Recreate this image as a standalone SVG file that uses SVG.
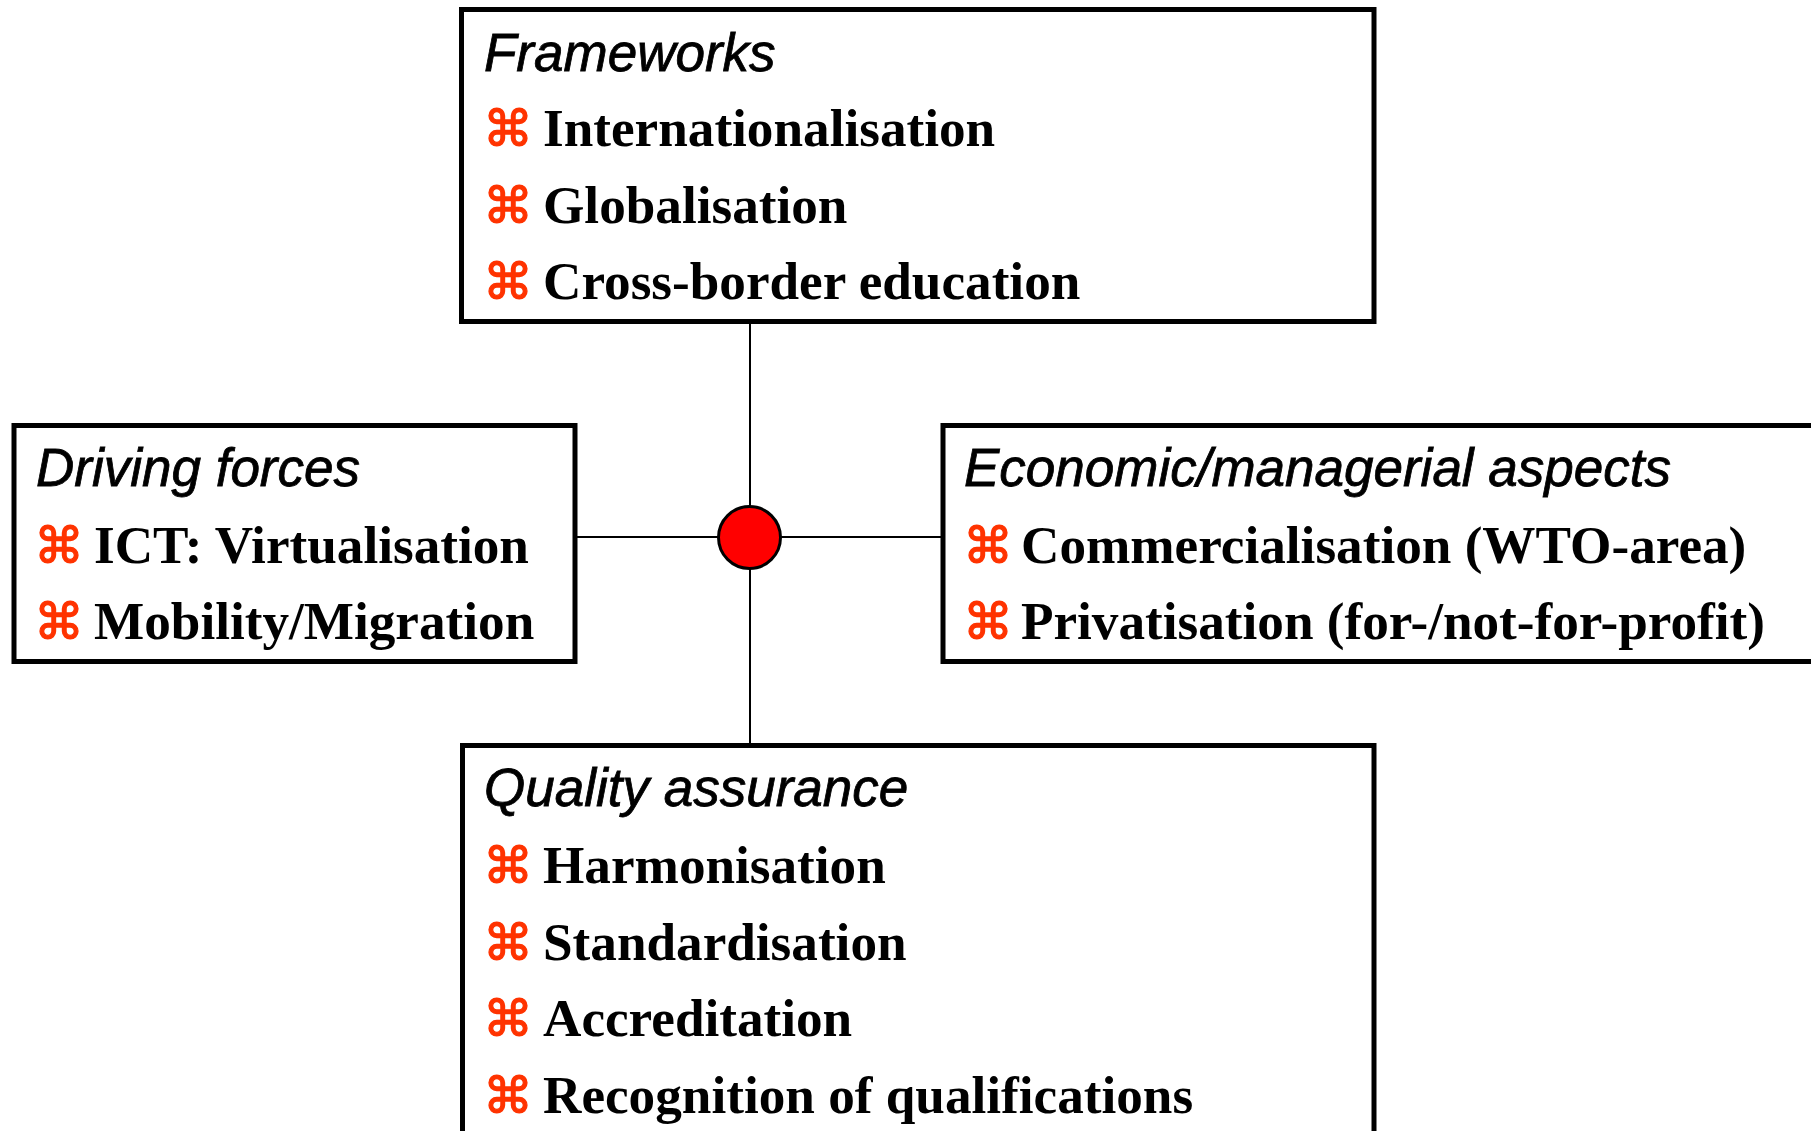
<svg xmlns="http://www.w3.org/2000/svg" width="1811" height="1131" viewBox="0 0 1811 1131">
  <style>
    .box { fill: #ffffff; stroke: #000000; stroke-width: 5; }
    .head { font-family: "Liberation Sans", Arial, sans-serif; font-style: italic; font-size: 53px; fill: #000000; stroke: #000000; stroke-width: 0.8; }
    .item { font-family: "Liberation Serif", "Times New Roman", serif; font-weight: bold; font-size: 53.2px; fill: #000000; }
    .bul { font-family: "DejaVu Sans", sans-serif; font-size: 50px; fill: #ff3300; stroke: #ff3300; stroke-width: 1.3; }
    .wire { stroke: #000000; stroke-width: 2; fill: none; }
    .hub { fill: #ff0000; stroke: #000000; stroke-width: 3; }
  </style>
  <rect width="1811" height="1131" fill="#ffffff"/>

  <g id="connectors">
    <line class="wire" x1="750" y1="322" x2="750" y2="746"/>
    <line class="wire" x1="575" y1="537" x2="943" y2="537"/>
  </g>

  <g id="hub">
    <circle class="hub" cx="749.5" cy="537.5" r="31"/>
  </g>

  <g id="frameworks">
    <rect class="box" x="461.5" y="9.5" width="912.5" height="312"/>
    <text class="head" x="484" y="71">Frameworks</text>
    <text class="bul" x="483" y="146">⌘</text>
    <text class="item" x="543" y="146">Internationalisation</text>
    <text class="bul" x="483" y="223">⌘</text>
    <text class="item" x="543" y="223">Globalisation</text>
    <text class="bul" x="483" y="299">⌘</text>
    <text class="item" x="543" y="299">Cross-border education</text>
  </g>

  <g id="driving-forces">
    <rect class="box" x="14" y="425.5" width="561" height="236"/>
    <text class="head" x="36" y="486">Driving forces</text>
    <text class="bul" x="34" y="563">⌘</text>
    <text class="item" x="94" y="563">ICT: Virtualisation</text>
    <text class="bul" x="34" y="639">⌘</text>
    <text class="item" x="94" y="639">Mobility/Migration</text>
  </g>

  <g id="economic-aspects">
    <rect class="box" x="943" y="425.5" width="880" height="236"/>
    <text class="head" x="964" y="486">Economic/managerial aspects</text>
    <text class="bul" x="963" y="563">⌘</text>
    <text class="item" x="1021" y="563">Commercialisation (WTO-area)</text>
    <text class="bul" x="963" y="639">⌘</text>
    <text class="item" x="1021" y="639">Privatisation (for-/not-for-profit)</text>
  </g>

  <g id="quality-assurance">
    <rect class="box" x="462.5" y="745.5" width="911.5" height="400"/>
    <text class="head" x="484" y="806">Quality assurance</text>
    <text class="bul" x="483" y="883">⌘</text>
    <text class="item" x="543" y="883">Harmonisation</text>
    <text class="bul" x="483" y="960">⌘</text>
    <text class="item" x="543" y="960">Standardisation</text>
    <text class="bul" x="483" y="1036">⌘</text>
    <text class="item" x="543" y="1036">Accreditation</text>
    <text class="bul" x="483" y="1113">⌘</text>
    <text class="item" x="543" y="1113">Recognition of qualifications</text>
  </g>
</svg>
